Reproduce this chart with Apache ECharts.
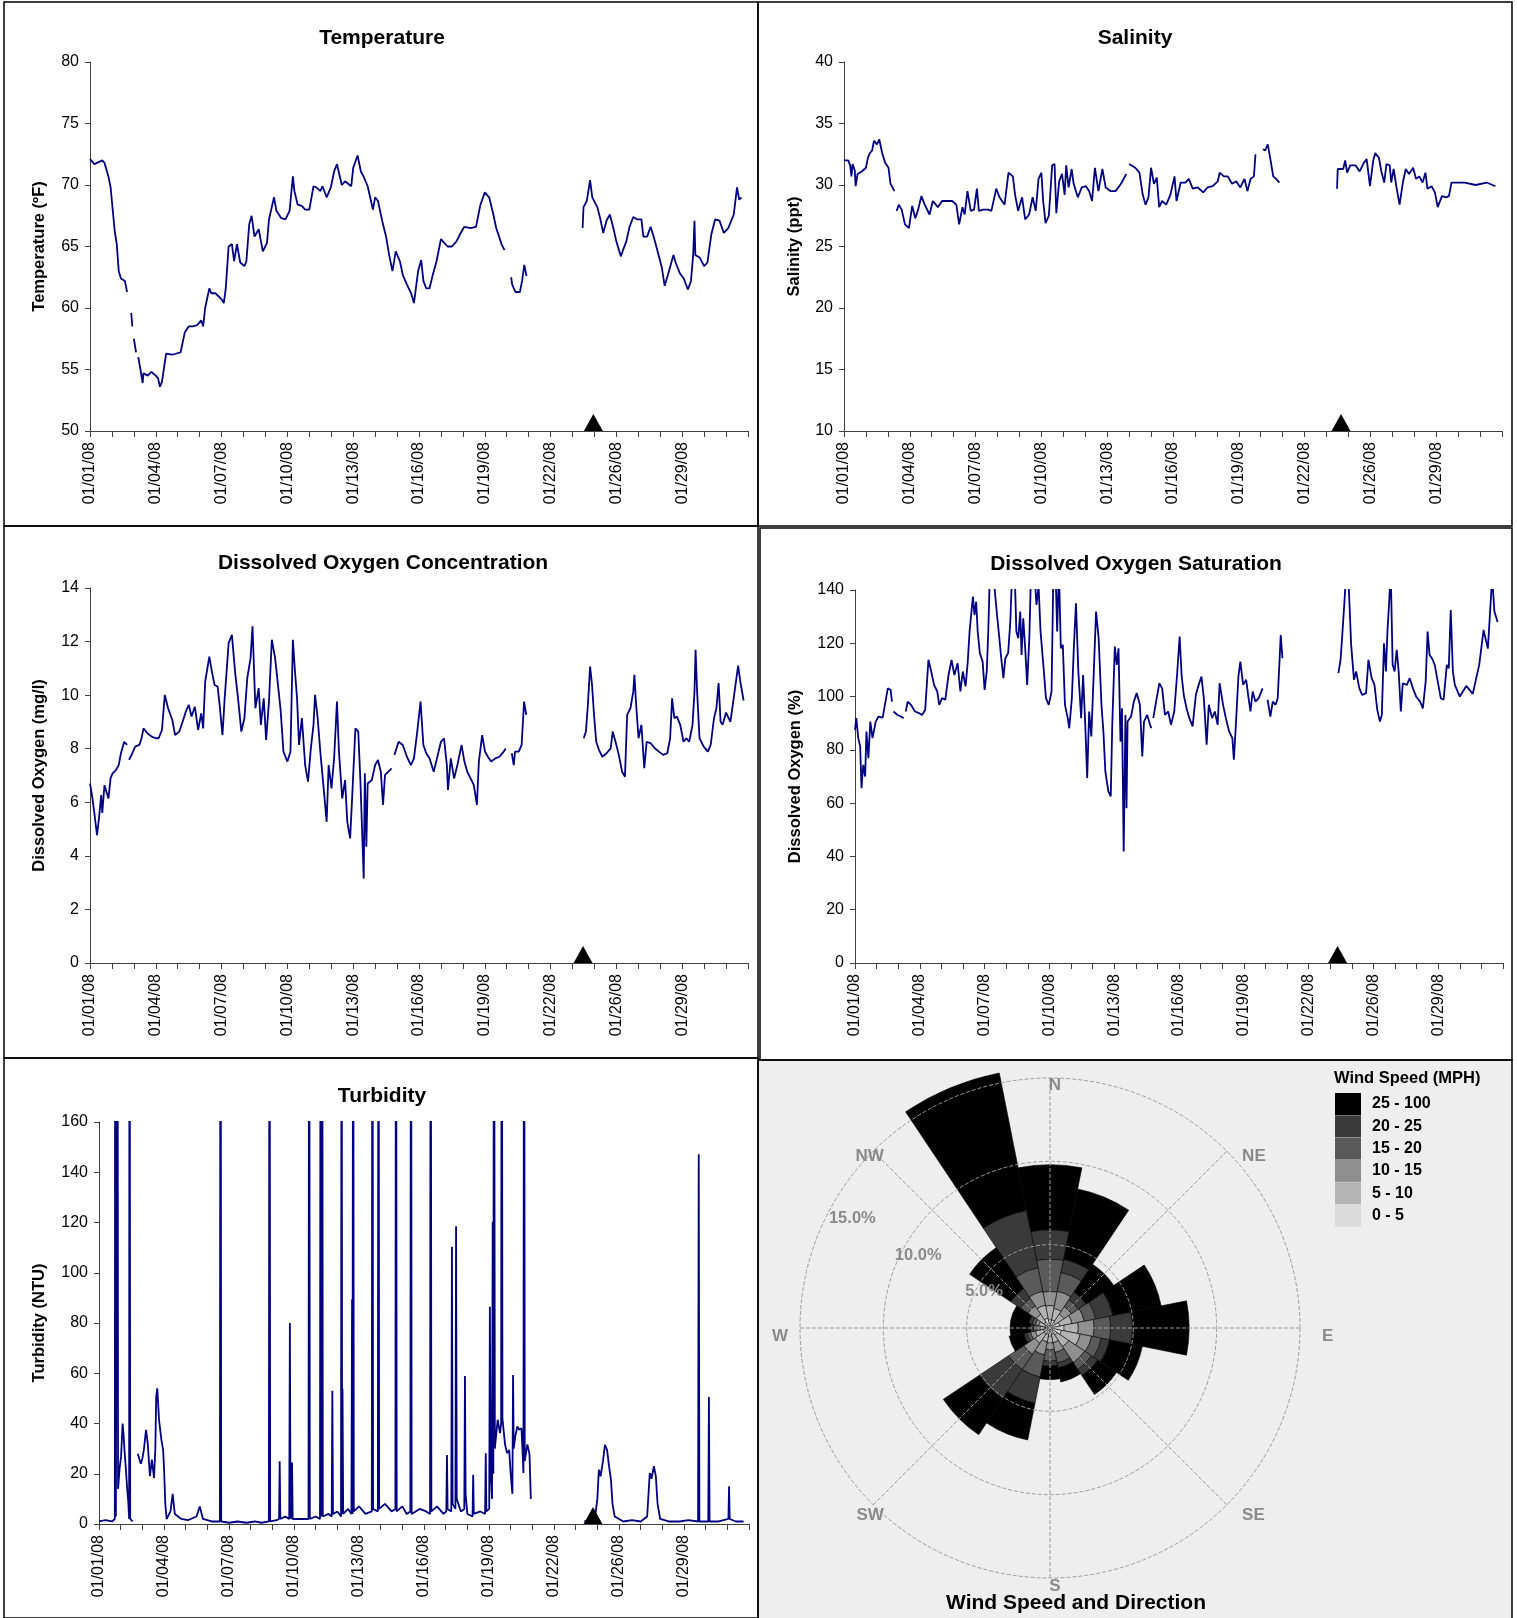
<!DOCTYPE html>
<html>
<head>
<meta charset="utf-8">
<script src="https://cdn.jsdelivr.net/npm/echarts/dist/echarts.min.js"></script>
<style>html,body{margin:0;padding:0;background:#fff}#c{width:1517px;height:1618px}</style>
</head>
<body>
<div id="c"></div>
<script>
// ---------- tick labels ----------
const dayTickLabels = ['01/01/08','01/04/08','01/07/08','01/10/08','01/13/08','01/16/08','01/19/08','01/22/08','01/26/08','01/29/08'];

// ---------- time series: [axis day, value] ----------
const tempData = [[0,72.1],[0.2,71.7],[0.56,72.0],[0.66,71.8],[0.84,70.7],[0.94,69.8],[1.13,66.2],[1.22,65.2],[1.31,63.0],[1.41,62.4],[1.59,62.2],[1.69,61.3],[1.72,null],[1.88,59.6],[1.93,58.5],[1.96,null],[2.0,57.5],[2.1,56.4],[2.13,null],[2.2,56.0],[2.3,55.0],[2.4,53.9],[2.44,54.7],[2.63,54.5],[2.8,54.8],[3.0,54.5],[3.1,54.3],[3.19,53.6],[3.28,54.0],[3.47,56.3],[3.56,56.4],[3.75,56.2],[3.94,56.3],[4.13,56.4],[4.32,58.0],[4.5,58.5],[4.69,58.5],[4.88,58.6],[5.07,59.0],[5.16,58.5],[5.25,60.0],[5.44,61.6],[5.53,61.2],[5.72,61.2],[6.0,60.7],[6.1,60.4],[6.19,61.6],[6.32,65.0],[6.47,65.2],[6.57,63.8],[6.7,65.2],[6.85,63.7],[7.04,63.4],[7.13,63.8],[7.26,66.8],[7.37,67.5],[7.5,65.8],[7.69,66.4],[7.88,64.6],[8.07,65.3],[8.16,67.2],[8.39,69.0],[8.5,67.9],[8.72,67.3],[8.91,67.2],[9.1,67.9],[9.25,70.7],[9.32,69.5],[9.47,68.4],[9.66,68.3],[9.81,68.0],[10.0,68.0],[10.19,69.9],[10.32,69.8],[10.5,69.5],[10.6,69.9],[10.79,69.0],[10.98,69.8],[11.13,71.1],[11.26,71.7],[11.35,71.0],[11.48,70.0],[11.63,70.3],[11.91,69.9],[12.0,71.4],[12.2,72.4],[12.35,71.1],[12.47,70.7],[12.66,69.9],[12.76,69.1],[12.9,68.0],[13.0,69.0],[13.13,68.7],[13.32,67.1],[13.5,65.8],[13.64,64.3],[13.79,63.0],[13.94,64.6],[14.13,63.8],[14.26,62.7],[14.45,61.9],[14.64,61.2],[14.77,60.4],[14.96,63.0],[15.1,63.9],[15.2,62.2],[15.33,61.6],[15.48,61.6],[15.63,62.7],[15.8,63.8],[16.0,65.6],[16.3,65.0],[16.5,65.0],[16.7,65.4],[16.9,66.1],[17.07,66.6],[17.35,66.5],[17.6,66.6],[17.8,68.4],[18.0,69.4],[18.2,69.0],[18.39,67.6],[18.52,66.5],[18.67,65.7],[18.76,65.2],[18.9,64.7],[19.0,null],[19.2,62.5],[19.25,61.9],[19.4,61.3],[19.6,61.3],[19.7,62.2],[19.8,63.5],[19.9,62.6],[20.0,null],[22.46,66.5],[22.5,68.2],[22.65,68.7],[22.8,70.4],[22.9,69.0],[23.13,68.2],[23.26,67.3],[23.4,66.1],[23.55,67.1],[23.7,67.6],[23.86,66.5],[24.0,65.4],[24.2,64.2],[24.3,64.7],[24.45,65.4],[24.6,66.6],[24.77,67.4],[24.96,67.2],[25.14,67.2],[25.23,65.8],[25.4,65.8],[25.56,66.6],[25.7,65.8],[25.88,64.6],[26.07,63.3],[26.2,61.8],[26.35,62.7],[26.6,64.3],[26.7,63.7],[26.9,62.8],[27.07,62.4],[27.26,61.5],[27.4,62.2],[27.5,64.3],[27.56,67.1],[27.6,64.3],[27.8,64.1],[28.0,63.4],[28.15,63.7],[28.33,66.0],[28.5,67.2],[28.7,67.1],[28.9,66.1],[29.1,66.5],[29.35,67.6],[29.5,69.8],[29.6,68.8],[29.7,69.0]];

const salData = [[0,32.0],[0.19,32.0],[0.28,31.6],[0.34,30.7],[0.39,31.7],[0.49,31.2],[0.53,29.9],[0.62,30.9],[0.81,31.1],[1.0,31.4],[1.09,32.2],[1.18,32.6],[1.28,32.8],[1.37,33.6],[1.5,33.3],[1.61,33.7],[1.74,32.6],[1.88,31.8],[2.03,31.4],[2.12,30.1],[2.3,29.5],[2.35,null],[2.4,27.9],[2.5,28.4],[2.63,28.0],[2.78,26.8],[2.96,26.5],[3.11,28.3],[3.25,27.3],[3.38,28.0],[3.53,29.1],[3.68,28.4],[3.9,27.6],[4.05,28.7],[4.28,28.2],[4.47,28.7],[4.75,28.7],[4.93,28.7],[5.12,28.4],[5.25,26.8],[5.4,28.2],[5.5,27.6],[5.63,29.5],[5.78,27.9],[5.93,28.0],[6.06,29.7],[6.15,27.9],[6.34,28.0],[6.57,28.0],[6.72,27.9],[6.94,29.7],[7.09,29.0],[7.32,28.4],[7.5,31.0],[7.7,30.7],[7.8,29.2],[7.94,27.9],[8.12,29.0],[8.26,27.2],[8.44,27.6],[8.6,29.0],[8.74,27.9],[8.87,30.5],[9.0,31.0],[9.08,28.7],[9.19,26.9],[9.34,27.5],[9.49,31.6],[9.6,31.7],[9.68,27.7],[9.81,30.3],[9.94,30.9],[10.06,29.2],[10.13,31.6],[10.24,29.8],[10.38,31.3],[10.47,30.1],[10.66,29.0],[10.84,29.8],[11.03,29.9],[11.18,29.5],[11.31,28.7],[11.44,31.4],[11.6,29.5],[11.78,31.3],[11.93,29.8],[12.16,29.5],[12.38,29.5],[12.63,30.1],[12.87,30.9],[12.93,null],[13.0,31.7],[13.28,31.4],[13.47,31.0],[13.62,29.2],[13.75,28.4],[13.88,29.0],[14.0,31.4],[14.13,30.1],[14.26,30.6],[14.37,28.2],[14.5,28.7],[14.69,28.4],[14.88,29.2],[15.07,30.7],[15.16,28.7],[15.35,30.2],[15.57,30.2],[15.72,30.5],[15.9,29.7],[16.13,29.8],[16.38,29.4],[16.57,29.8],[16.81,29.9],[17.04,30.3],[17.13,31.0],[17.32,30.7],[17.5,30.7],[17.69,30.1],[17.88,30.3],[18.07,29.8],[18.26,30.5],[18.39,29.5],[18.54,30.5],[18.69,30.7],[18.76,32.5],[18.8,null],[18.87,33.5],[18.95,null],[19.1,32.9],[19.2,32.8],[19.32,33.3],[19.43,32.2],[19.57,30.7],[19.7,30.5],[19.85,30.2],[19.9,null],[22.48,29.7],[22.51,31.3],[22.76,31.3],[22.85,32.0],[22.94,31.0],[23.08,31.6],[23.32,31.6],[23.51,31.1],[23.7,31.8],[23.83,32.1],[23.98,29.9],[24.13,32.0],[24.22,32.6],[24.39,32.2],[24.5,31.1],[24.63,30.2],[24.73,31.7],[24.88,31.6],[24.95,30.2],[25.06,31.3],[25.19,29.8],[25.33,28.4],[25.48,30.2],[25.61,31.3],[25.76,30.9],[25.95,31.4],[26.08,30.5],[26.23,30.7],[26.38,30.2],[26.51,31.0],[26.6,29.7],[26.79,29.9],[26.94,29.4],[27.07,28.2],[27.26,29.1],[27.45,29.0],[27.58,29.1],[27.7,30.2],[27.88,30.2],[28.3,30.2],[28.8,30.0],[29.3,30.2],[29.7,29.9]];

const doConcData = [[0,6.7],[0.09,6.27],[0.19,5.65],[0.32,4.77],[0.41,5.4],[0.51,6.27],[0.56,5.6],[0.66,6.64],[0.75,6.64],[0.84,6.14],[0.94,6.9],[1.03,7.08],[1.18,7.2],[1.31,7.39],[1.41,7.83],[1.56,8.26],[1.69,8.14],[1.73,null],[1.78,7.58],[1.93,7.83],[2.06,8.08],[2.25,8.14],[2.35,8.39],[2.44,8.76],[2.63,8.57],[2.81,8.45],[3.0,8.39],[3.13,8.39],[3.28,8.7],[3.41,10.01],[3.56,9.51],[3.75,9.08],[3.88,8.51],[4.07,8.64],[4.22,9.0],[4.37,9.39],[4.5,9.64],[4.63,9.2],[4.78,9.57],[4.93,8.7],[5.07,9.32],[5.16,8.76],[5.25,10.5],[5.44,11.44],[5.57,10.82],[5.68,10.38],[5.82,10.32],[5.91,9.64],[6.04,8.51],[6.14,9.88],[6.25,11.13],[6.32,11.94],[6.47,12.25],[6.62,10.82],[6.75,9.88],[6.9,8.64],[7.04,9.14],[7.17,10.63],[7.32,11.38],[7.41,12.57],[7.54,9.51],[7.69,10.26],[7.79,8.89],[7.92,9.88],[8.03,8.33],[8.16,9.76],[8.29,12.07],[8.44,11.38],[8.57,10.38],[8.69,9.45],[8.82,7.89],[9.0,7.52],[9.14,7.89],[9.25,12.07],[9.34,10.95],[9.44,9.88],[9.53,8.14],[9.66,9.14],[9.81,7.39],[9.94,6.77],[10.07,8.01],[10.19,8.89],[10.26,10.01],[10.38,9.14],[10.5,7.89],[10.64,6.64],[10.79,5.27],[10.88,7.39],[11.01,6.52],[11.13,7.64],[11.26,9.76],[11.35,7.89],[11.5,6.14],[11.63,6.83],[11.73,5.27],[11.86,4.65],[11.95,6.14],[12.1,8.76],[12.23,8.64],[12.33,6.77],[12.48,3.15],[12.53,7.08],[12.6,4.34],[12.66,6.7],[12.85,6.83],[13.0,7.39],[13.13,7.58],[13.26,7.14],[13.36,5.9],[13.45,7.02],[13.6,7.14],[13.75,7.27],[13.8,null],[13.88,7.77],[14.07,8.26],[14.26,8.14],[14.45,7.7],[14.63,7.39],[14.77,7.64],[14.92,8.64],[15.07,9.76],[15.2,8.14],[15.33,7.83],[15.48,7.64],[15.67,7.14],[15.82,7.64],[16.0,8.26],[16.14,8.39],[16.27,7.39],[16.32,6.46],[16.45,7.64],[16.6,6.89],[16.75,7.39],[16.94,8.14],[17.07,7.52],[17.2,7.14],[17.35,6.89],[17.5,6.64],[17.64,5.9],[17.73,7.52],[17.88,8.51],[18.01,7.89],[18.14,7.7],[18.29,7.52],[18.48,7.64],[18.67,7.7],[18.86,7.89],[18.95,8.01],[19.05,null],[19.23,7.83],[19.32,7.39],[19.38,7.89],[19.55,7.89],[19.68,8.14],[19.79,9.76],[19.89,9.26],[19.95,null],[22.51,8.39],[22.61,8.64],[22.7,9.64],[22.8,11.07],[22.89,10.38],[22.98,9.26],[23.08,8.26],[23.21,7.95],[23.36,7.7],[23.55,7.83],[23.74,8.01],[23.83,8.64],[23.96,8.26],[24.11,7.77],[24.26,7.14],[24.39,6.95],[24.49,9.26],[24.64,9.51],[24.77,10.13],[24.82,10.76],[24.9,9.64],[25.01,8.39],[25.14,8.89],[25.27,7.27],[25.38,8.26],[25.57,8.2],[25.76,8.01],[25.94,7.89],[26.13,7.77],[26.32,7.83],[26.45,8.39],[26.54,9.88],[26.64,9.14],[26.76,9.2],[26.91,8.89],[27.06,8.26],[27.19,8.39],[27.32,8.26],[27.47,8.89],[27.56,10.13],[27.61,11.69],[27.68,10.13],[27.79,8.39],[27.98,8.08],[28.17,7.89],[28.3,8.14],[28.45,9.14],[28.56,9.51],[28.66,10.45],[28.75,9.01],[28.84,8.89],[29.0,9.35],[29.2,9.0],[29.55,11.1],[29.65,10.5],[29.8,9.8]];

const doSatData = [[0,87.5],[0.06,91.9],[0.15,84.4],[0.24,81.3],[0.3,65.6],[0.38,74.4],[0.47,70.0],[0.53,86.9],[0.62,76.9],[0.71,90.6],[0.81,84.4],[0.96,90.6],[1.09,92.5],[1.28,92.1],[1.41,98.1],[1.52,103.1],[1.65,102.5],[1.71,98.1],[1.74,null],[1.78,94.4],[1.97,93.1],[2.12,92.5],[2.25,91.9],[2.3,null],[2.35,94.4],[2.44,98.1],[2.59,96.9],[2.78,94.4],[2.96,93.8],[3.1,93.1],[3.25,95.0],[3.34,95.6],[3.4,113.8],[3.53,109.4],[3.66,104.4],[3.81,101.9],[3.9,96.9],[4.03,99.4],[4.18,98.8],[4.33,108.1],[4.47,113.8],[4.6,108.1],[4.75,112.5],[4.88,101.9],[4.99,109.4],[5.12,103.8],[5.22,113.1],[5.31,125.0],[5.46,137.5],[5.53,130.6],[5.61,135.6],[5.68,124.4],[5.78,116.3],[5.91,113.1],[6.0,102.5],[6.1,109.4],[6.17,124.4],[6.25,148],[6.4,146],[6.59,129.4],[6.66,123.8],[6.77,114.4],[6.87,106.9],[6.96,114.4],[7.09,116.3],[7.19,128.1],[7.28,148],[7.4,145],[7.47,124.4],[7.56,121.9],[7.65,131.9],[7.71,115.6],[7.79,129.4],[7.88,118.1],[7.97,104.4],[8.07,121.9],[8.16,150],[8.3,148],[8.4,134.4],[8.5,141.3],[8.59,124.4],[8.72,111.9],[8.84,99.4],[8.97,96.9],[9.1,101.9],[9.19,150],[9.28,148],[9.36,124.4],[9.44,148],[9.53,118.1],[9.62,119.4],[9.72,96.9],[9.85,91.9],[9.92,88.1],[10.04,99.4],[10.13,118.1],[10.23,135.0],[10.34,109.4],[10.47,91.9],[10.56,108.1],[10.66,89.4],[10.75,69.4],[10.84,94.4],[10.94,85.0],[11.05,108.1],[11.16,131.9],[11.28,121.9],[11.41,96.9],[11.5,86.9],[11.59,71.9],[11.73,64.4],[11.84,62.5],[11.91,89.4],[12.03,118.8],[12.12,111.9],[12.2,118.1],[12.29,83.1],[12.36,95.6],[12.44,41.9],[12.52,93.1],[12.57,58.1],[12.62,90.6],[12.78,92.5],[12.91,98.1],[13.04,101.3],[13.19,96.9],[13.3,77.5],[13.38,90.6],[13.53,93.1],[13.66,89.4],[13.72,88.1],[13.76,null],[13.81,91.9],[13.94,98.1],[14.09,105.0],[14.22,103.1],[14.35,93.1],[14.5,94.4],[14.63,89.4],[14.78,94.4],[14.91,108.1],[15.03,122.5],[15.12,108.1],[15.22,100.6],[15.35,95.6],[15.48,91.9],[15.63,88.8],[15.78,100.6],[15.91,104.4],[16.04,107.5],[16.15,99.4],[16.28,81.9],[16.38,96.9],[16.53,91.9],[16.66,94.4],[16.79,89.4],[16.88,105.0],[17.04,96.9],[17.17,91.9],[17.32,86.9],[17.47,84.4],[17.54,76.3],[17.65,91.9],[17.75,107.5],[17.84,113.1],[17.97,104.4],[18.11,106.3],[18.22,99.4],[18.31,94.4],[18.41,101.9],[18.54,98.1],[18.69,99.4],[18.87,103.1],[18.95,null],[19.1,98.8],[19.23,92.5],[19.34,98.1],[19.47,96.9],[19.57,99.4],[19.66,114.4],[19.71,123.1],[19.79,114.4],[19.85,null],[22.38,108.8],[22.48,113.8],[22.57,124.4],[22.66,135.6],[22.76,150],[22.84,145],[22.97,119.4],[23.1,106.3],[23.2,109.4],[23.35,103.1],[23.48,100.6],[23.66,101.3],[23.77,113.8],[23.92,106.9],[24.05,104.4],[24.18,95.0],[24.3,90.6],[24.39,93.1],[24.49,120.0],[24.58,109.4],[24.65,124.4],[24.74,136.9],[24.8,148],[24.89,111.9],[24.98,109.4],[25.08,117.5],[25.17,109.4],[25.27,94.4],[25.36,105.0],[25.55,104.4],[25.68,106.9],[25.83,103.1],[25.98,100.0],[26.16,98.1],[26.29,95.6],[26.42,105.6],[26.51,124.4],[26.6,115.6],[26.71,114.4],[26.84,111.9],[26.98,105.6],[27.12,99.4],[27.25,98.8],[27.4,111.9],[27.49,110.6],[27.58,132.5],[27.68,109.4],[27.77,104.4],[28.0,100.0],[28.3,104.0],[28.6,101.0],[28.9,112.0],[29.1,125.0],[29.3,118.0],[29.5,145.0],[29.6,132.0],[29.75,128.0]];

const turbData = [[0,1],[0.3,1.5],[0.6,1],[0.73,2],[0.75,300],[0.78,3],[0.83,3],[0.85,300],[0.88,14],[0.95,22],[1.02,27],[1.09,40],[1.13,36],[1.18,29],[1.24,22],[1.3,14],[1.35,9],[1.39,2],[1.41,300],[1.44,2],[1.55,1],[1.62,null],[1.79,28],[1.86,27.5],[1.93,24],[2.0,26],[2.07,29.5],[2.17,37.5],[2.25,32],[2.35,19],[2.44,25.6],[2.54,18.3],[2.6,30],[2.64,50.7],[2.69,54],[2.77,41.5],[2.88,33.5],[2.96,29.5],[3.01,20.3],[3.06,8],[3.12,2],[3.3,5],[3.4,12],[3.5,4],[3.8,2],[4.1,1.5],[4.5,3],[4.65,7],[4.8,2],[5.2,1],[5.58,1],[5.61,300],[5.64,1],[6.0,0.5],[6.4,1],[6.8,0.5],[7.2,1],[7.5,0.5],[7.84,1],[7.87,300],[7.9,1],[8.2,1.5],[8.31,2],[8.34,25],[8.37,2],[8.6,3],[8.78,2],[8.81,80],[8.84,3],[8.88,2],[8.91,24.5],[8.94,2],[9.3,2],[9.67,2],[9.7,300],[9.73,2],[10.0,3],[10.2,2],[10.23,300],[10.26,3],[10.3,300],[10.33,3],[10.6,4],[10.74,3],[10.77,53],[10.8,4],[11.0,5],[11.17,3],[11.2,300],[11.22,4],[11.24,53.8],[11.27,4],[11.5,6],[11.65,4],[11.68,89.5],[11.7,4],[11.73,300],[11.76,5],[12.0,7],[12.3,4],[12.59,5],[12.62,300],[12.65,6],[12.87,5],[12.9,300],[12.93,6],[13.2,8],[13.5,5],[13.68,6],[13.71,300],[13.74,5],[14.0,7],[14.2,4],[14.37,5],[14.4,300],[14.43,4],[14.8,6],[15.1,5],[15.28,4],[15.31,300],[15.34,5],[15.6,7],[15.9,4],[16.03,5],[16.06,27.5],[16.09,6],[16.26,5],[16.29,110.3],[16.32,8],[16.45,6],[16.48,118.5],[16.51,10],[16.7,5],[16.86,6],[16.89,58.9],[16.92,12],[17.0,4],[17.24,3],[17.27,19.6],[17.3,4],[17.6,5],[17.82,4],[17.85,28.2],[17.88,5],[18.01,6],[18.04,86.5],[18.08,20],[18.14,10],[18.17,120.3],[18.2,20],[18.23,300],[18.27,30],[18.4,41.5],[18.51,36.2],[18.56,40],[18.59,300],[18.62,42],[18.74,31.7],[18.83,28.2],[18.93,29.5],[19.0,20],[19.08,12],[19.11,59.3],[19.14,30],[19.21,34.8],[19.31,38.8],[19.4,37.5],[19.5,38.1],[19.59,20.3],[19.62,300],[19.65,25],[19.77,31.7],[19.87,27.7],[19.93,10],[19.97,null],[22.4,1],[22.7,1.5],[22.9,3],[23.0,10],[23.07,21.6],[23.15,19],[23.26,25],[23.35,31.5],[23.45,29.5],[23.54,23],[23.63,17.6],[23.7,8],[23.8,3],[24.2,1],[24.6,1.5],[25.0,1],[25.3,3],[25.42,20.3],[25.5,18],[25.61,23],[25.7,19],[25.78,8],[25.9,2],[26.3,1],[26.8,1],[27.2,1.5],[27.65,1],[27.68,147.2],[27.71,1],[28.0,1],[28.12,1],[28.15,50.5],[28.18,1],[28.6,1],[29.05,2],[29.08,15],[29.11,2],[29.4,1],[29.75,1]];

// event marker (triangle) day on each time-series panel
const markerDays = [22.95, 22.66, 22.48, 22.34, 22.8];

// ---------- wind rose (% of time) ----------
const windDirs = ['N','NNE','NE','ENE','E','ESE','SE','SSE','S','SSW','SW','WSW','W','WNW','NW','NNW'];
const compassLabels = ['N','NE','E','SE','S','SW','W','NW'];
const windBins = ['0 - 5','5 - 10','10 - 15','15 - 20','20 - 25','25 - 100'];
const wind0to5   = [0.5,0.5,0.4,0.6,0.85,0.7,0.5,0.4,0.5,0.4,0.45,0.4,0.3,0.3,0.45,0.6];
const wind5to10  = [0.85,0.7,0.6,0.75,0.85,1.15,0.85,0.5,0.4,0.45,0.65,0.5,0.3,0.4,0.55,0.8];
const wind10to15 = [0.85,1.05,0.55,0.75,0.95,0.7,1.15,0.6,0.4,0.8,0.8,0.3,0.2,0.2,0.6,0.85];
const wind15to20 = [1.95,1.15,0.5,0.7,1.0,0.6,0.5,0.65,0.7,1.35,1.1,0.2,0.2,0.2,0.55,1.45];
const wind20to25 = [1.75,0.8,0.55,1.05,1.3,0.5,0.45,0.3,0.3,1.6,2.1,0.2,0.2,0.2,0.7,3.5];
const wind25plus = [3.9,4.3,2.0,2.95,3.4,2.0,1.35,0.85,0.8,2.25,2.6,0.9,1.2,1.1,2.95,8.4];
const windValues = [wind0to5, wind5to10, wind10to15, wind15to20, wind20to25, wind25plus];
const windColors = ['#dadada','#b4b4b4','#8f8f8f','#5a5a5a','#3a3a3a','#000000'];

// ---------- chart ----------
const FONT = "'Liberation Sans', Arial, Helvetica, sans-serif";
const AX = '#404040';
const LINE = '#000080';
const ROSE_GRAY = '#8a8a8a';

const grids = [
  {left:90,  top:62,   width:658, height:369},
  {left:844, top:62,   width:658, height:369},
  {left:90,  top:588,  width:658, height:375},
  {left:855, top:590,  width:648, height:373},
  {left:99,  top:1122, width:650, height:402}
].map(g => Object.assign({containLabel:false, outerBoundsMode:'none'}, g));

function xAx(i){
  return {
    gridIndex:i, type:'value', min:0, max:30, interval:3,
    axisLine:{show:true, onZero:false, lineStyle:{color:AX, width:1}},
    axisTick:{show:true, length:6, lineStyle:{color:AX, width:1}},
    minorTick:{show:true, splitNumber:3, length:6, lineStyle:{color:AX, width:1}},
    splitLine:{show:false}, minorSplitLine:{show:false},
    axisLabel:{rotate:90, margin:11, fontSize:16, color:'#000', fontFamily:FONT,
      formatter:function(v){ const k = Math.round(v/3); return (Math.abs(v-k*3)<1e-6 && k<dayTickLabels.length) ? dayTickLabels[k] : ''; }}
  };
}
function yAx(i, min, max, interval, name, gap){
  return {
    gridIndex:i, type:'value', min:min, max:max, interval:interval,
    name:name, nameLocation:'middle', nameGap:gap,
    nameTextStyle:{fontSize:16.5, fontWeight:'bold', color:'#000', fontFamily:FONT},
    axisLine:{show:true, lineStyle:{color:AX, width:1}},
    axisTick:{show:true, length:5, lineStyle:{color:AX, width:1}},
    splitLine:{show:false},
    axisLabel:{margin:11, fontSize:16, color:'#000', fontFamily:FONT}
  };
}
const yMins = [50, 10, 0, 0, 0];
function lineSeries(i, data){
  return {type:'line', xAxisIndex:i, yAxisIndex:i, data:data, showSymbol:false, symbol:'none',
    connectNulls:false, lineStyle:{color:LINE, width:1.8}, itemStyle:{color:LINE}, z:3, silent:true};
}
function markerSeries(i){
  return {type:'scatter', xAxisIndex:i, yAxisIndex:i, data:[[markerDays[i], yMins[i]]],
    symbol:'triangle', symbolSize:[19,17], symbolOffset:[0,-8.5],
    itemStyle:{color:'#000', opacity:1}, z:4, silent:true};
}

const center = [1050, 1328];
const series = [
  lineSeries(0, tempData), lineSeries(1, salData), lineSeries(2, doConcData),
  lineSeries(3, doSatData), lineSeries(4, turbData),
  markerSeries(0), markerSeries(1), markerSeries(2), markerSeries(3), markerSeries(4)
];
windBins.forEach(function(b, k){
  series.push({type:'bar', coordinateSystem:'polar', polarIndex:0, name:b, stack:'wind',
    data:windValues[k], barCategoryGap:'0%', clip:false, z:2, silent:true,
    itemStyle:{color:windColors[k], borderColor:'#000', borderWidth:0.6}});
});

function titleText(t, x, y, size){
  return {type:'text', x:x, y:y, z:10, silent:true,
    style:{text:t, align:'center', verticalAlign:'middle', fill:'#000',
      font:'bold ' + (size||21) + 'px ' + FONT}};
}
function box(x, y, w, h, fill){
  return {type:'rect', z:0, silent:true, shape:{x:x, y:y, width:w, height:h},
    style:{fill:fill||'none', stroke:'#000', lineWidth:1.5}};
}
const compassFont = {fontSize:17, fontWeight:'bold', color:ROSE_GRAY, fontFamily:FONT};
// rich style key for each compass label (N, NE, E, SE, S, SW, W, NW)
const compassStyleKeys = ['c','dr','h','dr','c','dl','h','dl'];

const option = {
  animation:false,
  backgroundColor:'#ffffff',
  textStyle:{fontFamily:FONT},
  grid:grids,
  xAxis:[xAx(0), xAx(1), xAx(2), xAx(3), xAx(4)],
  yAxis:[
    yAx(0, 50, 80, 5, 'Temperature (\u00baF)', 42),
    yAx(1, 10, 40, 5, 'Salinity (ppt)', 41),
    yAx(2, 0, 14, 2, 'Dissolved Oxygen (mg/l)', 42),
    yAx(3, 0, 140, 20, 'Dissolved Oxygen (%)', 51),
    yAx(4, 0, 160, 20, 'Turbidity (NTU)', 51)
  ],
  polar:[
    {center:center, radius:[0,250]},
    {center:center, radius:[0,250]},
    {center:center, radius:[0,226]},
    {center:[1055,1336], radius:[0,250]}
  ],
  angleAxis:[
    {polarIndex:0, type:'category', data:windDirs, startAngle:101.25, clockwise:true, boundaryGap:true,
      axisLine:{show:false}, axisTick:{show:false}, axisLabel:{show:false}, splitLine:{show:false}},
    {polarIndex:1, type:'value', min:0, max:360, interval:45, startAngle:90, clockwise:true, z:5,
      axisLine:{show:false}, axisTick:{show:false}, axisLabel:{show:false},
      splitLine:{show:true, lineStyle:{color:'#9c9c9c', type:'dashed', width:1}}},
    {polarIndex:2, type:'value', min:0, max:360, startAngle:151, show:false},
    {polarIndex:3, type:'value', min:0, max:360, interval:45, startAngle:90, clockwise:true, z:6,
      axisLine:{show:false}, axisTick:{show:false}, splitLine:{show:false},
      axisLabel:{show:true, margin:-8, fontSize:17, fontWeight:'bold', color:ROSE_GRAY, fontFamily:FONT,
        formatter:function(v){
          if (v >= 360) return '';
          const k = Math.round(v/45);
          return '{' + compassStyleKeys[k] + '|' + compassLabels[k] + '}';
        },
        rich:{
          c:Object.assign({padding:[0,0,0,0]}, compassFont),
          h:Object.assign({padding:[0,25,0,25]}, compassFont),
          dr:Object.assign({padding:[0,16,0,16]}, compassFont),
          dl:Object.assign({padding:[0,0,0,0]}, compassFont)
        }}}
  ],
  radiusAxis:[
    {polarIndex:0, type:'value', min:0, max:15, show:false},
    {polarIndex:1, type:'value', min:0, max:15, interval:5, z:5,
      axisLine:{show:false}, axisTick:{show:false}, axisLabel:{show:false},
      splitLine:{show:true, lineStyle:{color:'#9c9c9c', type:'dashed', width:1}}},
    {polarIndex:2, type:'value', min:0, max:15, interval:5, z:5,
      axisLine:{show:false}, axisTick:{show:false}, splitLine:{show:false},
      axisLabel:{show:true, margin:0, align:'center', verticalAlign:'middle', fontSize:16.5, fontWeight:'bold',
        color:ROSE_GRAY, fontFamily:FONT, formatter:function(v){ return v===0 ? '' : v.toFixed(1) + '%'; }}},
    {polarIndex:3, type:'value', min:0, max:15, show:false}
  ],
  legend:{
    data:windBins.slice().reverse(), orient:'vertical', left:1335, top:1093, padding:0,
    itemWidth:26, itemHeight:22, itemGap:0.3, icon:'rect', selectedMode:false,
    itemStyle:{borderWidth:0},
    textStyle:{fontSize:16, fontWeight:'bold', color:'#000', fontFamily:FONT, padding:[0,0,0,6]}
  },
  graphic:{elements:[
    box(758, 1060, 754, 560, '#eeeeee'),
    box(4, 2, 754, 524), box(758, 2, 754, 524),
    box(4, 526, 754, 532), box(760, 528, 752, 532),
    box(4, 1058, 754, 560),
    titleText('Temperature', 382, 38),
    titleText('Salinity', 1135, 38),
    titleText('Dissolved Oxygen Concentration', 383, 563),
    titleText('Dissolved Oxygen Saturation', 1136, 564),
    titleText('Turbidity', 382, 1096),
    titleText('Wind Speed and Direction', 1076, 1603),
    {type:'text', x:1334, y:1078, z:10, silent:true,
      style:{text:'Wind Speed (MPH)', align:'left', verticalAlign:'middle', fill:'#000', font:'bold 16.5px ' + FONT}}
  ]},
  series:series
};

const chart = echarts.init(document.getElementById('c'), null, {renderer:'canvas', width:1517, height:1618});
chart.setOption(option);
</script>
</body>
</html>
